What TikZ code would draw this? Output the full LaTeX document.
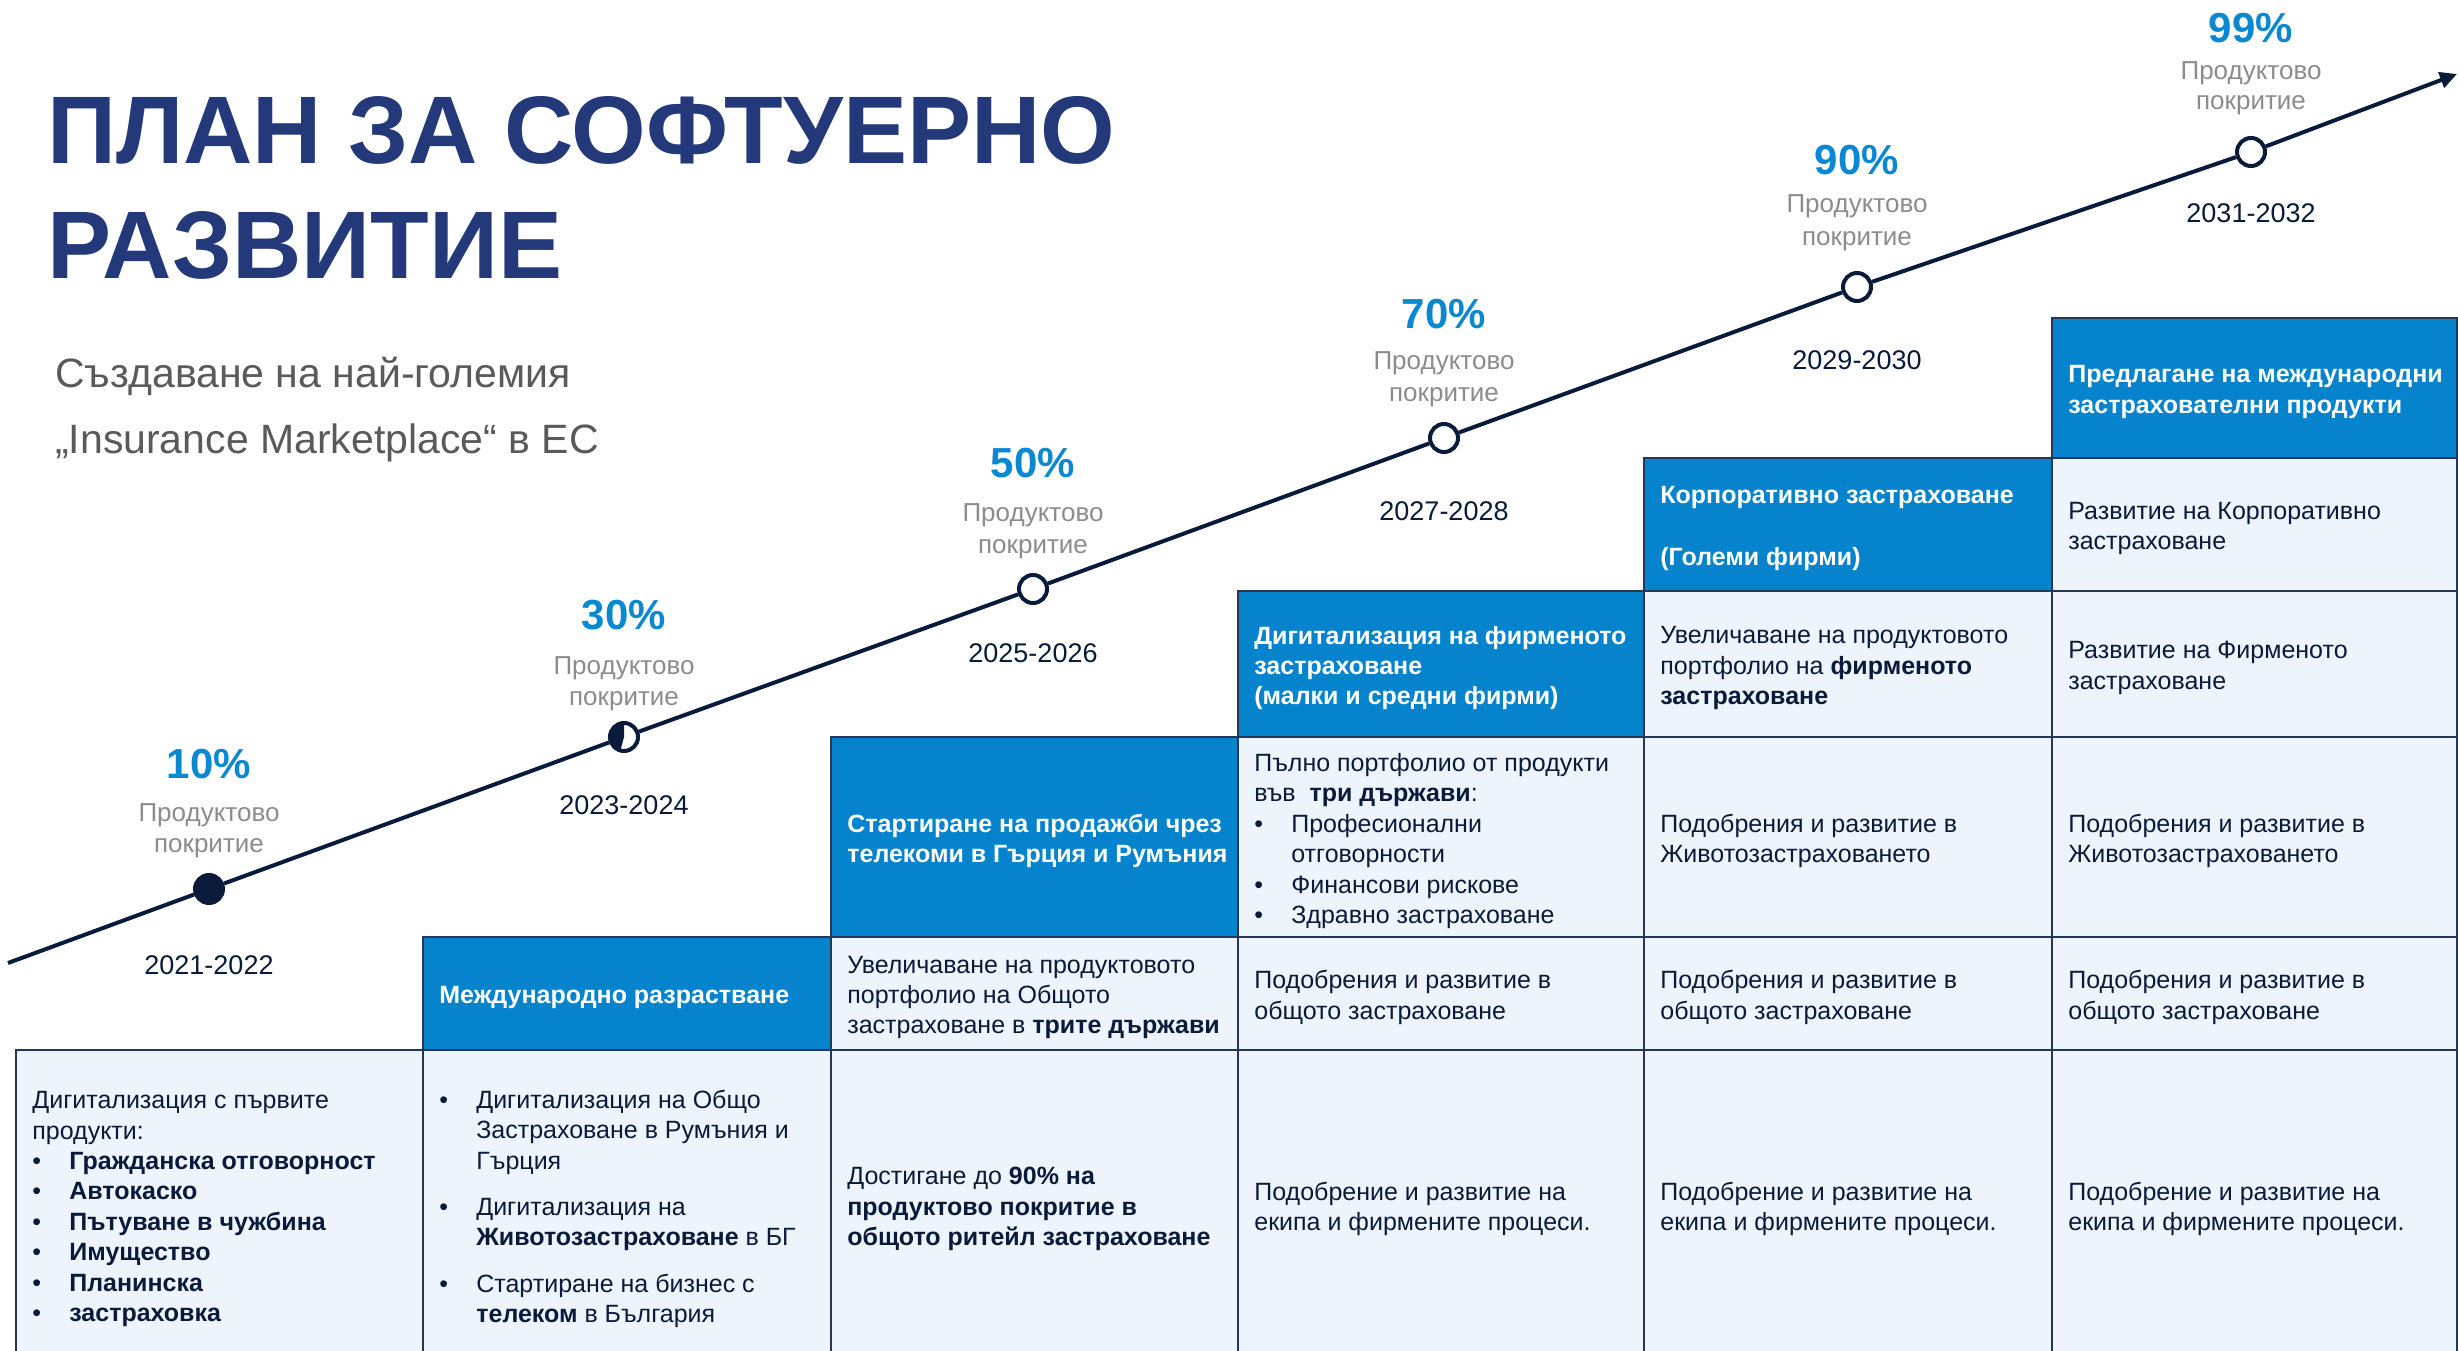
\documentclass[tikz,border=0pt]{standalone}
\usepackage{fontspec}
\setmainfont{Liberation Sans}
\usetikzlibrary{arrows.meta}

\definecolor{titleblue}{RGB}{35,57,122}
\definecolor{subgray}{RGB}{90,90,90}
\definecolor{pctblue}{RGB}{10,136,210}
\definecolor{lblgray}{RGB}{140,140,140}
\definecolor{navy}{RGB}{10,26,58}
\definecolor{hdrblue}{RGB}{5,131,204}
\definecolor{cellfill}{RGB}{237,244,251}
\definecolor{gridc}{RGB}{38,54,86}

% one table cell: name, x1, y1, x2, y2, style
\newcommand\mkcell[6]{\node[#6, minimum width={(#4-#2)*1pt}, minimum height={(#5-#3)*1pt}] (#1) at ({(#2+#4)/2},{(#3+#5)/2}) {};}
% text of a cell, left aligned and vertically centred
\newcommand\celltext[3]{\node[#2] (#1t) at ([xshift=17pt,yshift=-4pt]#1.west) {#3};}
\newcommand\blt{\makebox[37pt][l]{•}}
\newcommand\hng{\hspace*{37pt}}

\begin{document}
\begin{tikzpicture}[x=1pt,y=-1pt,
  titletext/.style={anchor=base west, inner sep=0pt, text=titleblue, font=\fontsize{96}{110}\selectfont\bfseries},
  subtext/.style={anchor=base west, inner sep=0pt, text=subgray, font=\fontsize{41}{50}\selectfont},
  pcttext/.style={anchor=base, inner sep=0pt, text=pctblue, font=\fontsize{42}{50}\selectfont\bfseries},
  grytext/.style={anchor=base, inner sep=0pt, text=lblgray, font=\fontsize{26}{31}\selectfont},
  yeartext/.style={anchor=base, inner sep=0pt, text=navy, font=\fontsize{27}{32}\selectfont},
  cellbox/.style={rectangle, draw=gridc, line width=1.7pt, fill=cellfill, inner sep=0pt},
  hdrbox/.style={cellbox, fill=hdrblue},
  ctext/.style={anchor=west, inner sep=0pt, align=left, text=navy, font=\fontsize{25}{30.4}\selectfont},
  htext/.style={ctext, text=white, font=\fontsize{25}{30.4}\selectfont\bfseries},
  tline/.style={draw=navy, line width=4pt},
  mk/.style={circle, draw=navy, line width=4pt, fill=white, minimum size=28pt, inner sep=0pt},
  mkfull/.style={mk, fill=navy},
  mkhalf/.style={mk, path picture={\fill[navy] (path picture bounding box.center) -- ++(90:20pt) arc[start angle=90, end angle=255, radius=20pt] -- cycle;}}
]
\useasboundingbox (0,0) rectangle (2458,1351);
\clip (0,0) rectangle (2458,1351);
\fill[white] (0,0) rectangle (2458,1351);

% heading
\node[titletext] (title1) at (47,164) {ПЛАН ЗА СОФТУЕРНО};
\node[titletext] (title2) at (47,279) {РАЗВИТИЕ};
\node[subtext] (sub1) at (55,387) {Създаване на най-големия};
\node[subtext] (sub2) at (55,453) {„Insurance Marketplace“ в ЕС};

% staircase table
\mkcell{c11}{16}{1050}{423}{1360}{cellbox}
\celltext{c11}{ctext}{Дигитализация с първите\\продукти:\\
  \blt\textbf{Гражданска отговорност}\\
  \blt\textbf{Автокаско}\\
  \blt\textbf{Пътуване в чужбина}\\
  \blt\textbf{Имущество}\\
  \blt\textbf{Планинска}\\
  \blt\textbf{застраховка}}

\mkcell{c21}{423}{937}{831}{1050}{hdrbox}
\celltext{c21}{htext}{Международно разрастване}
\mkcell{c22}{423}{1050}{831}{1360}{cellbox}
\celltext{c22}{ctext}{\blt Дигитализация на Общо\\
  \hng Застраховане в Румъния и\\
  \hng Гърция\\[16pt]
  \blt Дигитализация на\\
  \hng\textbf{Животозастраховане} в БГ\\[16pt]
  \blt Стартиране на бизнес с\\
  \hng\textbf{телеком} в България}

\mkcell{c31}{831}{737}{1238}{937}{hdrbox}
\celltext{c31}{htext}{Стартиране на продажби чрез\\телекоми в Гърция и Румъния}
\mkcell{c32}{831}{937}{1238}{1050}{cellbox}
\celltext{c32}{ctext}{Увеличаване на продуктовото\\портфолио на Общото\\застраховане в \textbf{трите държави}}
\mkcell{c33}{831}{1050}{1238}{1360}{cellbox}
\celltext{c33}{ctext}{Достигане до \textbf{90\% на}\\\textbf{продуктово покритие в}\\\textbf{общото ритейл застраховане}}

\mkcell{c41}{1238}{591}{1644}{737}{hdrbox}
\celltext{c41}{htext}{Дигитализация на фирменото\\застраховане\\(малки и средни фирми)}
\mkcell{c42}{1238}{737}{1644}{937}{cellbox}
\celltext{c42}{ctext}{Пълно портфолио от продукти\\
  във\ \textbf{\ три държави}:\\
  \blt Професионални\\
  \hng отговорности\\
  \blt Финансови рискове\\
  \blt Здравно застраховане}
\mkcell{c43}{1238}{937}{1644}{1050}{cellbox}
\celltext{c43}{ctext}{Подобрения и развитие в\\общото застраховане}
\mkcell{c44}{1238}{1050}{1644}{1360}{cellbox}
\celltext{c44}{ctext}{Подобрение и развитие на\\екипа и фирмените процеси.}

\mkcell{c51}{1644}{458}{2052}{591}{hdrbox}
\celltext{c51}{htext}{Корпоративно застраховане\\[31pt](Големи фирми)}
\mkcell{c52}{1644}{591}{2052}{737}{cellbox}
\celltext{c52}{ctext}{Увеличаване на продуктовото\\портфолио на \textbf{фирменото}\\\textbf{застраховане}}
\mkcell{c53}{1644}{737}{2052}{937}{cellbox}
\celltext{c53}{ctext}{Подобрения и развитие в\\Животозастраховането}
\mkcell{c54}{1644}{937}{2052}{1050}{cellbox}
\celltext{c54}{ctext}{Подобрения и развитие в\\общото застраховане}
\mkcell{c55}{1644}{1050}{2052}{1360}{cellbox}
\celltext{c55}{ctext}{Подобрение и развитие на\\екипа и фирмените процеси.}

\mkcell{c61}{2052}{318}{2457}{458}{hdrbox}
\celltext{c61}{htext}{Предлагане на международни\\застрахователни продукти}
\mkcell{c62}{2052}{458}{2457}{591}{cellbox}
\celltext{c62}{ctext}{Развитие на Корпоративно\\застраховане}
\mkcell{c63}{2052}{591}{2457}{737}{cellbox}
\celltext{c63}{ctext}{Развитие на Фирменото\\застраховане}
\mkcell{c64}{2052}{737}{2457}{937}{cellbox}
\celltext{c64}{ctext}{Подобрения и развитие в\\Животозастраховането}
\mkcell{c65}{2052}{937}{2457}{1050}{cellbox}
\celltext{c65}{ctext}{Подобрения и развитие в\\общото застраховане}
\mkcell{c66}{2052}{1050}{2457}{1360}{cellbox}
\celltext{c66}{ctext}{Подобрение и развитие на\\екипа и фирмените процеси.}

% timeline milestones
\node[mkfull] (m1) at (209,889) {};
\node[mkhalf] (m2) at (624,737) {};
\node[mk] (m3) at (1033,589) {};
\node[mk] (m4) at (1444,438) {};
\node[mk] (m5) at (1857,287) {};
\node[mk] (m6) at (2251,152) {};
\coordinate (tl0) at (8,963);
\coordinate (tlend) at (2457,74);
\draw[tline] (tl0) -- (m1) -- (m2) -- (m3) -- (m4) -- (m5) -- (m6);
\draw[tline, -{Triangle[length=17pt,width=16pt]}] (m6) -- (tlend);

% coverage labels and periods
\foreach \i/\x/\p/\ya/\yb/\yc/\yr/\per in {
  1/209/10/778/821/852/974/2021-2022,
  2/624/30/629/674/705/814/2023-2024,
  3/1033/50/477/521/553/662/2025-2026,
  4/1444/70/328/369/401/520/2027-2028,
  5/1857/90/175/213/245/369/2029-2030,
  6/2251/99/43/80/110/223/2031-2032}{
  \node[pcttext] (p\i) at (\x,\ya) {\p\%};
  \node[grytext] (ga\i) at (\x,\yb) {Продуктово};
  \node[grytext] (gb\i) at (\x,\yc) {покритие};
  \node[yeartext] (y\i) at (\x,\yr) {\per};
}
\end{tikzpicture}
\end{document}
